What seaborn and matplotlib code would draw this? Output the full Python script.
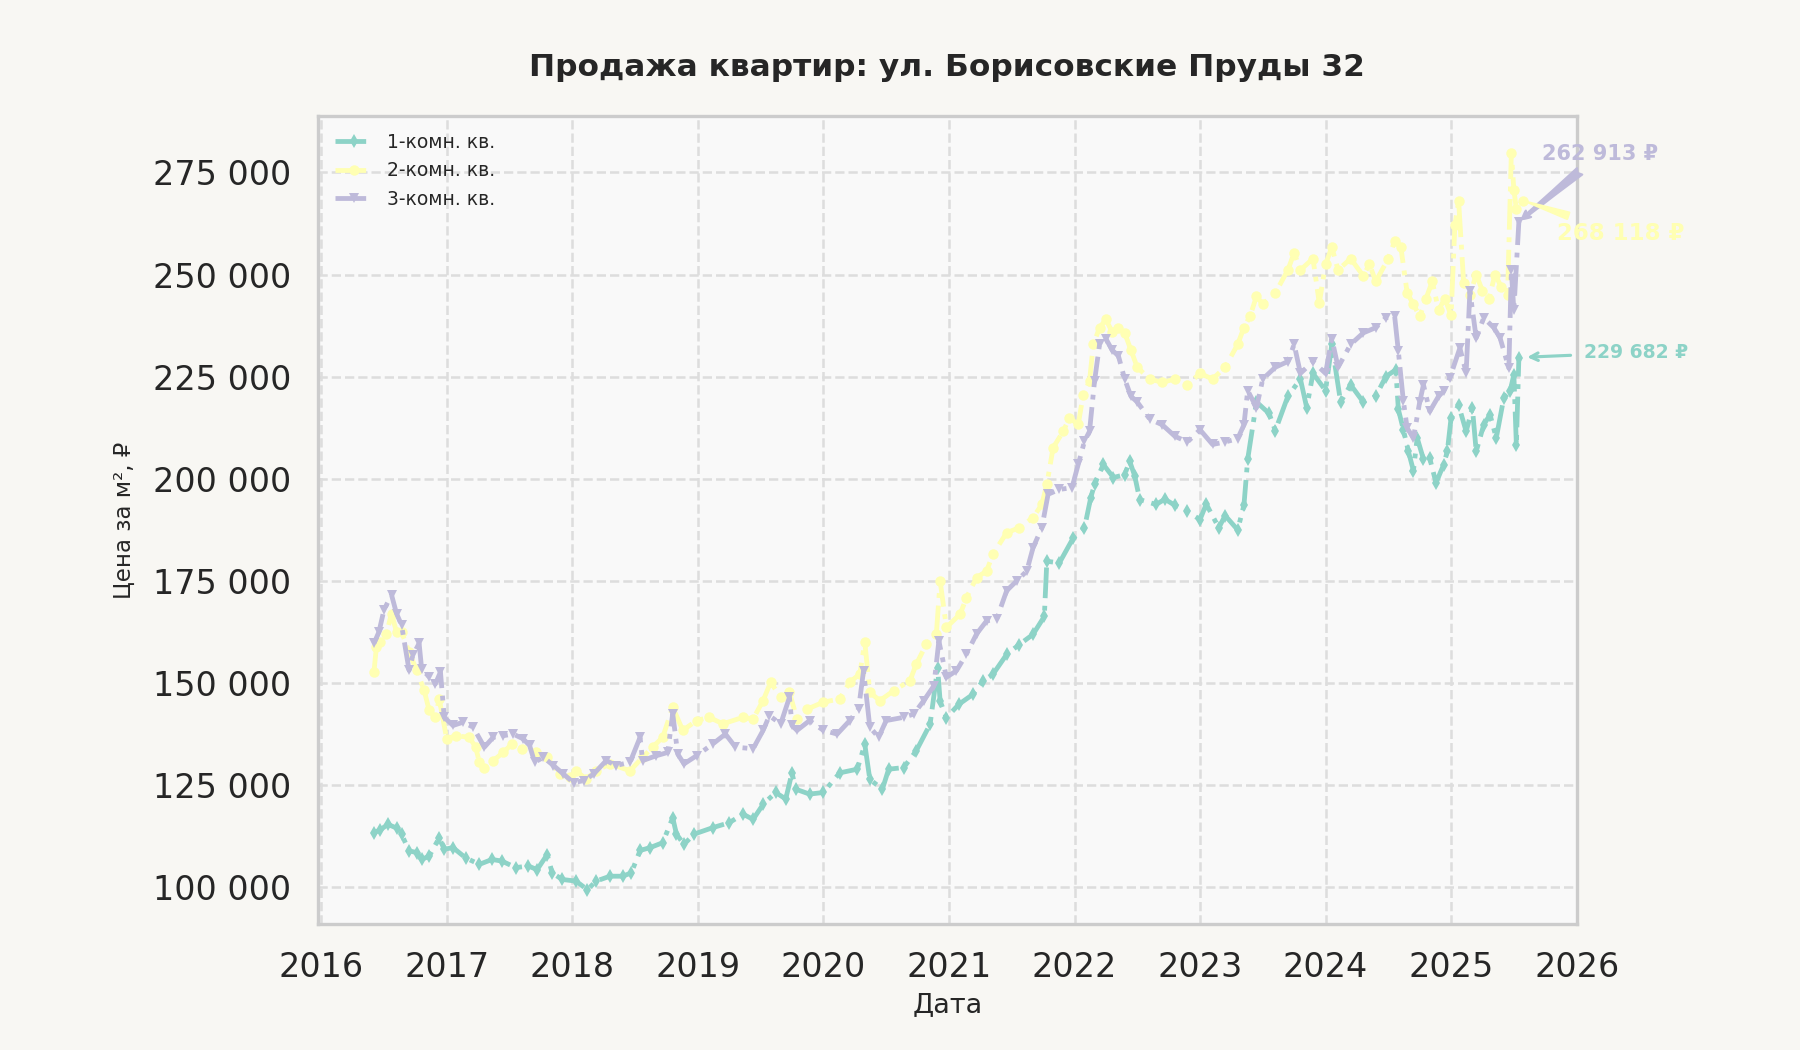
import pandas as pd
import seaborn as sns
import matplotlib.pyplot as plt
import matplotlib.dates as mdates
from matplotlib.ticker import FuncFormatter, MultipleLocator

# --------------------------------------------------------------------------- #
# Data: decimal year, price per m2 (thousand RUB)
years_1 = [2016.42, 2016.47, 2016.53, 2016.60, 2016.64, 2016.70, 2016.76, 2016.80, 2016.86, 2016.94,
           2016.98, 2017.05, 2017.15, 2017.26, 2017.36, 2017.44, 2017.55, 2017.65, 2017.72, 2017.80,
           2017.84, 2017.92, 2018.03, 2018.12, 2018.19, 2018.30, 2018.40, 2018.47, 2018.54, 2018.62,
           2018.72, 2018.80, 2018.83, 2018.89, 2018.97, 2019.12, 2019.25, 2019.36, 2019.44, 2019.52,
           2019.62, 2019.70, 2019.75, 2019.78, 2019.89, 2020.00, 2020.13, 2020.27, 2020.33, 2020.37,
           2020.47, 2020.52, 2020.64, 2020.74, 2020.85, 2020.91, 2020.93, 2020.98, 2021.08, 2021.19,
           2021.27, 2021.35, 2021.46, 2021.56, 2021.67, 2021.76, 2021.78, 2021.88, 2021.99, 2022.08,
           2022.13, 2022.16, 2022.23, 2022.31, 2022.40, 2022.44, 2022.48, 2022.52, 2022.65, 2022.72,
           2022.80, 2022.90, 2023.00, 2023.05, 2023.15, 2023.20, 2023.30, 2023.35, 2023.38, 2023.45,
           2023.55, 2023.60, 2023.70, 2023.80, 2023.85, 2023.90, 2024.00, 2024.05, 2024.12, 2024.20,
           2024.30, 2024.40, 2024.48, 2024.56, 2024.58, 2024.62, 2024.66, 2024.70, 2024.73, 2024.78,
           2024.83, 2024.88, 2024.94, 2024.97, 2025.00, 2025.06, 2025.12, 2025.17, 2025.20, 2025.26,
           2025.31, 2025.36, 2025.42, 2025.47, 2025.50, 2025.52, 2025.54]
price_1 = [113.4, 114.0, 115.4, 114.5, 113.0, 108.9, 108.5, 106.8, 107.6, 112.1,
           109.3, 109.7, 107.2, 105.6, 106.8, 106.4, 104.8, 105.2, 104.3, 108.0,
           103.5, 101.9, 101.5, 99.4, 101.5, 102.7, 102.7, 103.5, 109.0, 109.7,
           110.9, 117.0, 113.0, 110.5, 113.0, 114.6, 115.8, 117.9, 116.6, 120.3,
           123.2, 121.6, 128.0, 124.0, 122.8, 123.2, 128.0, 128.9, 135.0, 126.4,
           124.0, 128.9, 129.3, 133.4, 139.9, 153.7, 145.6, 141.5, 144.8, 147.2,
           150.5, 152.1, 157.0, 159.4, 161.9, 166.3, 179.8, 179.4, 185.5, 188.0,
           195.4, 198.6, 203.5, 200.3, 201.0, 204.3, 200.7, 194.9, 193.7, 195.0,
           193.5, 192.0, 190.0, 193.8, 188.0, 191.0, 187.5, 193.5, 204.8, 218.8,
           216.0, 211.8, 220.2, 224.4, 217.4, 225.8, 221.6, 232.9, 218.8, 223.0,
           218.8, 220.2, 225.0, 226.7, 217.0, 212.0, 206.7, 202.0, 210.0, 204.8,
           205.0, 199.0, 203.4, 206.7, 214.9, 218.0, 211.6, 217.3, 206.7, 213.2,
           215.7, 210.0, 219.8, 221.4, 225.5, 208.3, 229.682]

years_2 = [2016.42, 2016.44, 2016.47, 2016.52, 2016.56, 2016.60, 2016.64, 2016.70, 2016.76, 2016.82,
           2016.86, 2016.91, 2016.94, 2017.00, 2017.07, 2017.18, 2017.23, 2017.26, 2017.30, 2017.37,
           2017.45, 2017.52, 2017.60, 2017.71, 2017.80, 2017.90, 2017.98, 2018.03, 2018.11, 2018.19,
           2018.30, 2018.46, 2018.56, 2018.64, 2018.72, 2018.80, 2018.88, 2018.99, 2019.09, 2019.20,
           2019.36, 2019.44, 2019.52, 2019.58, 2019.66, 2019.73, 2019.79, 2019.87, 2020.00, 2020.13,
           2020.21, 2020.29, 2020.33, 2020.37, 2020.45, 2020.56, 2020.69, 2020.74, 2020.82, 2020.90,
           2020.93, 2020.98, 2021.09, 2021.14, 2021.22, 2021.30, 2021.35, 2021.46, 2021.56, 2021.67,
           2021.74, 2021.78, 2021.83, 2021.91, 2021.96, 2022.03, 2022.07, 2022.12, 2022.15, 2022.20,
           2022.25, 2022.30, 2022.35, 2022.40, 2022.45, 2022.50, 2022.60, 2022.70, 2022.80, 2022.90,
           2023.00, 2023.10, 2023.20, 2023.30, 2023.35, 2023.40, 2023.45, 2023.50, 2023.60, 2023.70,
           2023.75, 2023.80, 2023.90, 2023.95, 2024.00, 2024.05, 2024.10, 2024.20, 2024.30, 2024.35,
           2024.40, 2024.50, 2024.55, 2024.60, 2024.65, 2024.70, 2024.75, 2024.80, 2024.85, 2024.90,
           2024.95, 2025.00, 2025.03, 2025.06, 2025.10, 2025.15, 2025.20, 2025.25, 2025.30, 2025.35,
           2025.40, 2025.45, 2025.48, 2025.50, 2025.52, 2025.57]
price_2 = [152.7, 158.9, 160.0, 162.1, 167.0, 162.5, 162.5, 157.6, 153.1, 148.2,
           143.3, 141.6, 146.1, 136.3, 137.1, 136.7, 134.3, 130.6, 129.3, 131.0,
           133.0, 135.1, 133.9, 133.0, 131.8, 127.7, 126.9, 128.5, 126.5, 128.5,
           130.2, 128.5, 131.8, 134.3, 136.7, 144.1, 138.4, 140.8, 141.6, 140.0,
           141.6, 141.2, 145.7, 150.2, 146.5, 147.7, 141.2, 143.6, 145.3, 146.1,
           150.2, 152.2, 160.0, 147.7, 145.7, 148.1, 150.6, 154.6, 159.5, 162.0,
           175.0, 163.6, 166.9, 170.9, 175.8, 177.4, 181.5, 186.8, 188.0, 190.5,
           193.7, 198.6, 207.6, 211.6, 214.9, 213.3, 220.6, 223.9, 232.9, 237.0,
           239.0, 236.0, 237.0, 235.7, 231.5, 227.3, 224.4, 223.6, 224.4, 223.0,
           225.8, 224.4, 227.3, 232.9, 237.0, 239.9, 244.7, 242.7, 245.5, 251.1,
           255.3, 251.1, 253.9, 243.0, 252.5, 256.7, 251.1, 253.9, 249.7, 252.5,
           248.3, 253.9, 258.1, 256.7, 245.5, 242.7, 239.8, 244.1, 248.3, 241.3,
           244.1, 240.0, 262.0, 268.0, 248.0, 245.0, 250.0, 246.0, 244.0, 250.0,
           247.0, 245.0, 279.8, 270.8, 266.0, 268.118]

years_3 = [2016.42, 2016.46, 2016.50, 2016.56, 2016.60, 2016.64, 2016.70, 2016.73, 2016.78, 2016.80,
           2016.86, 2016.91, 2016.95, 2016.98, 2017.05, 2017.13, 2017.21, 2017.30, 2017.37, 2017.45,
           2017.53, 2017.61, 2017.66, 2017.70, 2017.77, 2017.85, 2017.93, 2018.01, 2018.09, 2018.17,
           2018.27, 2018.35, 2018.46, 2018.54, 2018.56, 2018.67, 2018.76, 2018.80, 2018.84, 2018.89,
           2018.99, 2019.12, 2019.22, 2019.30, 2019.44, 2019.52, 2019.57, 2019.66, 2019.73, 2019.75,
           2019.79, 2019.89, 2020.00, 2020.11, 2020.21, 2020.28, 2020.32, 2020.37, 2020.44, 2020.50,
           2020.64, 2020.72, 2020.80, 2020.88, 2020.92, 2020.98, 2021.06, 2021.14, 2021.22, 2021.30,
           2021.38, 2021.46, 2021.54, 2021.62, 2021.67, 2021.74, 2021.79, 2021.88, 2021.98, 2022.03,
           2022.08, 2022.12, 2022.16, 2022.20, 2022.25, 2022.30, 2022.35, 2022.40, 2022.45, 2022.50,
           2022.60, 2022.70, 2022.80, 2022.90, 2023.00, 2023.10, 2023.20, 2023.30, 2023.35, 2023.38,
           2023.45, 2023.50, 2023.60, 2023.70, 2023.75, 2023.80, 2023.90, 2024.00, 2024.05, 2024.10,
           2024.20, 2024.30, 2024.40, 2024.48, 2024.55, 2024.58, 2024.62, 2024.65, 2024.70, 2024.75,
           2024.78, 2024.83, 2024.90, 2024.94, 2024.99, 2025.07, 2025.12, 2025.15, 2025.20, 2025.26,
           2025.34, 2025.39, 2025.46, 2025.48, 2025.50, 2025.54]
price_3 = [159.7, 162.5, 167.9, 171.6, 167.0, 164.2, 153.1, 156.8, 159.7, 153.5,
           151.5, 149.8, 152.7, 141.6, 139.6, 140.4, 139.2, 134.3, 136.7, 137.1,
           137.5, 136.3, 134.7, 130.6, 131.8, 129.8, 127.7, 125.6, 126.1, 127.7,
           131.0, 129.8, 130.6, 136.7, 131.0, 132.2, 133.0, 142.5, 132.6, 130.2,
           132.2, 135.1, 137.5, 134.3, 133.9, 138.4, 142.0, 140.0, 146.5, 139.6,
           138.4, 140.8, 138.4, 137.5, 140.8, 143.6, 153.0, 139.2, 136.7, 140.8,
           141.6, 142.4, 145.7, 149.3, 160.3, 151.4, 153.0, 157.1, 162.0, 165.2,
           165.6, 172.6, 175.0, 177.4, 183.1, 188.0, 196.2, 197.4, 197.8, 203.5,
           209.2, 211.6, 223.9, 232.9, 234.3, 231.5, 230.1, 224.4, 220.2, 218.8,
           214.6, 213.2, 210.4, 209.0, 212.0, 208.4, 209.0, 209.8, 213.2, 221.6,
           217.4, 224.4, 227.3, 228.7, 232.9, 225.8, 228.7, 225.8, 234.3, 227.3,
           232.9, 235.7, 237.0, 239.4, 239.9, 231.2, 219.0, 212.4, 210.0, 218.8,
           223.0, 216.5, 220.2, 221.4, 224.7, 232.0, 226.0, 245.9, 234.5, 239.4,
           237.0, 234.5, 227.1, 251.0, 241.3, 262.913]

labels = ["1-комн. кв.", "2-комн. кв.", "3-комн. кв."]
colors = ["#8dd3c7", "#ffffb3", "#bebada"]
markers = ["d", "o", "v"]


def to_date(yrs):
    return pd.Timestamp("2016-01-01") + pd.to_timedelta([(y - 2016) * 365.25 for y in yrs], unit="D")


def yr(y):
    return pd.Timestamp("2016-01-01") + pd.Timedelta(days=(y - 2016) * 365.25)


series = [(years_1, price_1), (years_2, price_2), (years_3, price_3)]

# --------------------------------------------------------------------------- #
sns.set_theme(style="whitegrid")
plt.rcParams['font.family'] = ['DejaVu Sans']

fig, ax = plt.subplots(figsize=(12, 7), dpi=150)
fig.patch.set_facecolor("#f8f7f3")
ax.set_facecolor("#f9f9f9")
fig.subplots_adjust(left=0.1767, right=0.876, top=0.8895, bottom=0.12)

for (yrs, vals), lab, col, mk in zip(series, labels, colors, markers):
    df = pd.DataFrame({"date": to_date(yrs), "price": [v * 1000 for v in vals]})
    sns.lineplot(data=df, x="date", y="price", ax=ax, color=col, label=lab,
                 linestyle="-.", linewidth=2.3, marker=mk, markersize=5,
                 markeredgewidth=0, sort=False)

# End labels
ax.annotate("262 913 ₽", xy=(yr(2025.54), 262913), xytext=(yr(2026.19), 279500),
            ha="center", va="center", fontsize=10, fontweight="bold", color=colors[2],
            annotation_clip=False,
            arrowprops=dict(arrowstyle="fancy", color=colors[2], shrinkA=2, shrinkB=2))
ax.annotate("268 118 ₽", xy=(yr(2025.57), 268118), xytext=(yr(2026.35), 260100),
            ha="center", va="center", fontsize=11, fontweight="bold", color=colors[1],
            annotation_clip=False,
            arrowprops=dict(arrowstyle="wedge", color=colors[1], shrinkA=2, shrinkB=2))
ax.annotate("229 682 ₽", xy=(yr(2025.54), 229682), xytext=(yr(2026.47), 230900),
            ha="center", va="center", fontsize=9, fontweight="bold", color=colors[0],
            annotation_clip=False,
            arrowprops=dict(arrowstyle="->", color=colors[0], lw=1.5, shrinkA=4, shrinkB=4))

ax.set_xlim(yr(2015.975), pd.Timestamp("2026-01-01"))
ax.set_ylim(91000, 288800)
ax.xaxis.set_major_locator(mdates.YearLocator())
ax.xaxis.set_major_formatter(mdates.DateFormatter("%Y"))
ax.yaxis.set_major_locator(MultipleLocator(25000))
ax.yaxis.set_major_formatter(FuncFormatter(lambda v, _: f"{v:,.0f}".replace(",", " ")))
ax.tick_params(axis="both", labelsize=16, pad=7, colors="#262626")

ax.grid(True, linestyle="--", color="#dddddd", linewidth=1.2)
for sp in ax.spines.values():
    sp.set_color("#cccccc")
    sp.set_linewidth(1.6)

ax.set_title("Продажа квартир: ул. Борисовские Пруды 32", fontsize=15,
             fontweight="bold", color="#262626", pad=19)
ax.set_xlabel("Дата", fontsize=13, color="#262626", labelpad=4)
ax.set_ylabel("Цена за м², ₽", fontsize=11, color="#262626", labelpad=8)
ax.legend(loc="upper left", fontsize=9, frameon=False)

plt.savefig("out.png", dpi=150, facecolor=fig.get_facecolor())
